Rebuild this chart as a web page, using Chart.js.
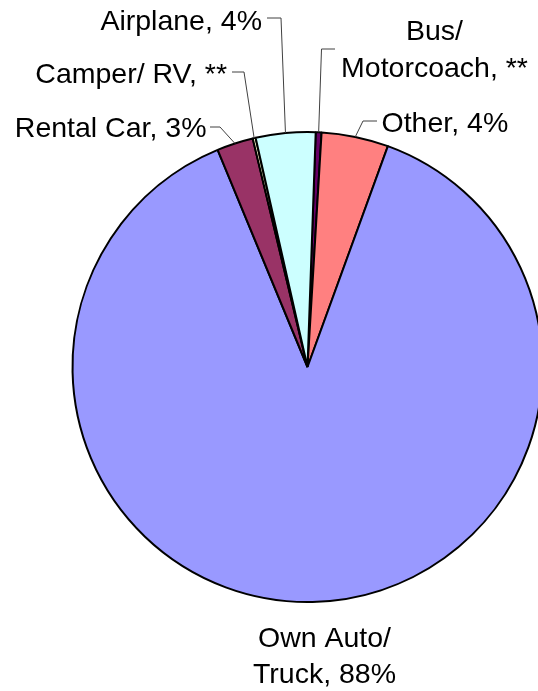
<!DOCTYPE html>
<html>
<head>
<meta charset="utf-8">
<script src="https://cdn.jsdelivr.net/npm/chart.js@4/dist/chart.umd.min.js"></script>
<style>
  html, body { margin: 0; padding: 0; background: #ffffff; }
  #wrap { width: 538px; height: 691px; overflow: hidden; position: relative; background: #ffffff; }
  #c { position: absolute; left: 0; top: 0; }
</style>
</head>
<body>
<div id="wrap"><canvas id="c" width="615" height="691" style="width:615px;height:691px"></canvas></div>
<script>
// Data (clockwise from the top)
const categories = ["Bus/ Motorcoach", "Other", "Own Auto/ Truck", "Rental Car", "Camper/ RV", "Airplane"];
const shares = [0.4, 4.6, 88.2, 2.5, 0.2, 4.1];
const labelLines = [
  ["Bus/", "Motorcoach, **"],
  ["Other, 4%"],
  ["Own Auto/", "Truck, 88%"],
  ["Rental Car, 3%"],
  ["Camper/ RV, **"],
  ["Airplane, 4%"]
];
const colors = ["#660066", "#FF8080", "#9999FF", "#993366", "#FFFFCC", "#CCFFFF"];

// Label placement (layout only)
const labelLayout = [
  { x: 434.5, y: 40, align: "center", lineH: 37, elbow: [[335, 49], [321.5, 49]] },
  { x: 381.5, y: 131.5, align: "left", lineH: 36, elbow: [[377, 121], [363, 121]] },
  { x: 324.5, y: 647, align: "center", lineH: 36, elbow: null },
  { x: 206.5, y: 137, align: "right", lineH: 36, elbow: [[210, 127], [220, 127]] },
  { x: 227, y: 83, align: "right", lineH: 36, elbow: [[232, 72], [244, 72]] },
  { x: 262, y: 30, align: "right", lineH: 36, elbow: [[267, 18], [281, 18]] }
];

const labelPlugin = {
  id: "pieLabels",
  afterDraw(chart) {
    const ctx = chart.ctx;
    const arcs = chart.getDatasetMeta(0).data;
    ctx.save();
    ctx.font = "28.5px 'Liberation Sans', Arial, sans-serif";
    ctx.fillStyle = "#000000";
    ctx.textBaseline = "alphabetic";
    arcs.forEach((arc, i) => {
      const lay = labelLayout[i];
      const lines = labelLines[i];
      if (lay.elbow) {
        const mid = (arc.startAngle + arc.endAngle) / 2;
        const r = arc.outerRadius;
        const px = arc.x + Math.cos(mid) * r;
        const py = arc.y + Math.sin(mid) * r;
        ctx.beginPath();
        ctx.strokeStyle = "#404040";
        ctx.lineWidth = 1;
        ctx.moveTo(lay.elbow[0][0], lay.elbow[0][1]);
        ctx.lineTo(lay.elbow[1][0], lay.elbow[1][1]);
        ctx.lineTo(px, py);
        ctx.stroke();
      }
      ctx.textAlign = lay.align;
      lines.forEach((t, k) => {
        ctx.fillText(t, lay.x, lay.y + k * lay.lineH);
      });
    });
    ctx.restore();
  }
};

new Chart(document.getElementById("c"), {
  type: "pie",
  data: {
    labels: categories,
    datasets: [{
      data: shares,
      backgroundColor: colors,
      borderColor: "#000000",
      borderWidth: 2
    }]
  },
  options: {
    responsive: false,
    animation: false,
    devicePixelRatio: 1,
    rotation: 2,
    layout: { padding: { left: 71.5, right: 71.5, top: 131, bottom: 88 } },
    plugins: { legend: { display: false }, tooltip: { enabled: false } }
  },
  plugins: [labelPlugin]
});
</script>
</body>
</html>
